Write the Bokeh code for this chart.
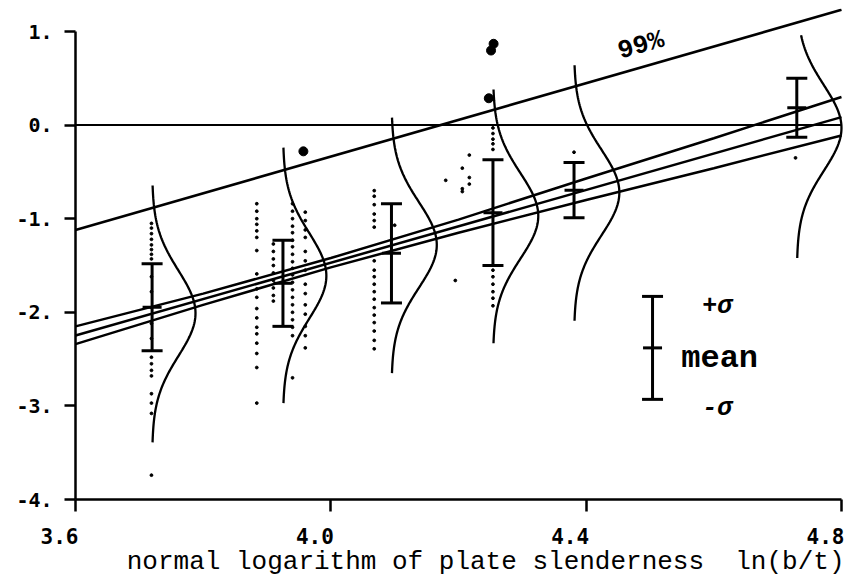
import numpy as np
from bokeh.plotting import figure
from bokeh.models import Label, FixedTicker, Range1d
from bokeh.embed import file_html
from bokeh.resources import INLINE

# ---- axes ----
x_ticks = [3.6, 4.0, 4.4, 4.8]
x_tick_labels = ["3.6", "4.0", "4.4", "4.8"]
y_ticks = [-4, -3, -2, -1, 0, 1]
y_tick_labels = ["-4.", "-3.", "-2.", "-1.", "0.", "1."]
x_title = "normal logarithm of plate slenderness\u00a0 ln(b/t)"

# ---- groups: mean +/- sigma error bars ----
group_x = [3.72, 3.925, 4.095, 4.254, 4.381, 4.73]
group_mean = [-1.945, -1.69, -1.37, -0.935, -0.695, 0.185]
group_sd = [0.465, 0.46, 0.53, 0.565, 0.295, 0.315]

# ---- normal density curves drawn at each group ----
curve_mean = [-2.01, -1.61, -1.28, -0.97, -0.72, -0.03]
curve_sd = [0.457, 0.457, 0.457, 0.457, 0.457, 0.457]
curve_top = [-0.645, -0.24, 0.08, 0.38, 0.64, 0.96]
curve_bottom = [-3.39, -2.97, -2.65, -2.33, -2.09, -1.42]
curve_peak = [0.068, 0.068, 0.071, 0.071, 0.071, 0.07]

# ---- regression line and band ----
reg_x = [3.6, 4.8]
reg_y = [-2.248, 0.085]
band_x = [3.6, 3.8, 4.0, 4.2, 4.4, 4.6, 4.8]
band_upper = [-2.15, -1.80, -1.42, -1.01, -0.57, -0.14, 0.30]
band_lower = [-2.34, -1.92, -1.52, -1.15, -0.80, -0.46, -0.11]

# ---- 99% line and zero line ----
p99_x = [3.6, 4.8]
p99_y = [-1.12, 1.232]
zero_x = [3.6, 4.8]
zero_y = [0.0, 0.0]

# ---- observations (small dots), by column ----
col_x = [3.719, 3.884, 3.910, 3.940, 3.960, 4.068, 4.254]
colA_y = [-1.05, -1.10, -1.16, -1.22, -1.28, -1.33, -1.38, -1.43, -1.62, -1.78, -1.95, -2.12,
          -2.28, -2.48, -2.55, -2.62, -2.68, -2.87, -2.97, -3.08, -3.74]
colB_y = [-0.84, -0.92, -1.00, -1.06, -1.13, -1.20, -1.34, -1.59, -1.75, -1.84, -1.96, -2.06,
          -2.16, -2.23, -2.33, -2.44, -2.59, -2.97]
colC_y = [-1.27, -1.35, -1.43, -1.50, -1.58, -1.66, -1.74, -1.82, -1.88]
colD_y = [-0.84, -0.92, -1.00, -1.08, -1.15, -1.23, -1.30, -1.38, -1.46, -1.53, -1.60, -1.68,
          -1.76, -1.84, -1.92, -2.00, -2.08, -2.16, -2.25, -2.70]
colE_y = [-0.93, -1.02, -1.12, -1.20, -1.35, -1.45, -1.55, -1.70, -1.80, -1.92, -2.02, -2.15,
          -2.25, -2.38]
colF_y = [-0.70, -0.76, -0.85, -0.95, -1.02, -1.09, -1.45, -1.55, -1.62, -1.70, -1.78, -1.86,
          -1.95, -2.03, -2.11, -2.20, -2.30, -2.39]
colG_y = [-0.03, -0.09, -0.15, -0.20, -0.26, -1.55, -1.62, -1.70, -1.78, -1.85, -1.93]
extra_x = [4.217, 4.206, 4.180, 4.217, 4.217, 4.206, 4.206, 4.100, 4.195, 4.381, 4.728]
extra_y = [-0.32, -0.46, -0.59, -0.56, -0.63, -0.68, -0.71, -1.07, -1.66, -0.29, -0.35]

# ---- outliers (large dots) ----
big_x = [3.957, 4.2475, 4.255, 4.251]
big_y = [-0.28, 0.287, 0.869, 0.797]

# ---- key ----
key_x = [4.504]
key_mean = [-2.38]
key_sd = [0.55]
key_texts = ["+σ", "mean", "-σ"]

INK = "#000000"

W, H = 851, 576
p = figure(width=W, height=H, x_range=Range1d(3.4825, 4.8157), y_range=Range1d(-4.8226, 1.246),
           output_backend="svg", toolbar_location=None,
           min_border_left=0, min_border_right=0, min_border_top=8, min_border_bottom=0)
p.outline_line_color = None
p.xgrid.grid_line_color = None
p.ygrid.grid_line_color = None
p.background_fill_color = "white"
p.border_fill_color = "white"

# axes (placed at the data origin corner 3.6 / -4)
p.xaxis.fixed_location = y_ticks[0]
p.xaxis.ticker = FixedTicker(ticks=x_ticks)
p.xaxis.bounds = (x_ticks[0], x_ticks[-1])
p.xaxis.major_label_overrides = {t: "" for t in x_ticks}
p.xaxis.major_tick_out = 12
p.xaxis.major_tick_in = 0
p.xaxis.minor_tick_line_color = None
p.xaxis.axis_line_width = 2.5
p.xaxis.major_tick_line_width = 2.5
p.xaxis.axis_line_color = INK
p.xaxis.major_tick_line_color = INK

p.yaxis.fixed_location = x_ticks[0]
p.yaxis.ticker = FixedTicker(ticks=y_ticks)
p.yaxis.bounds = (y_ticks[0], y_ticks[-1])
p.yaxis.major_label_overrides = {t: l for t, l in zip(y_ticks, y_tick_labels)}
p.yaxis.major_tick_out = 11
p.yaxis.major_tick_in = 0
p.yaxis.minor_tick_line_color = None
p.yaxis.axis_line_width = 2.5
p.yaxis.major_tick_line_width = 2.5
p.yaxis.axis_line_color = INK
p.yaxis.major_tick_line_color = INK
p.yaxis.major_label_standoff = 12
p.yaxis.major_label_text_font = "DejaVu Sans Mono"
p.yaxis.major_label_text_font_style = "bold"
p.yaxis.major_label_text_font_size = "20px"
p.yaxis.major_label_text_color = INK

# x tick labels (right-aligned at ticks)
for t, l in zip(x_ticks, x_tick_labels):
    p.add_layout(Label(x=t, y=y_ticks[0], x_offset=3, y_offset=-36, text=l,
                       text_align="right", text_baseline="middle",
                       text_font="DejaVu Sans Mono", text_font_style="bold",
                       text_font_size="21px", text_color=INK))

# axis title
p.add_layout(Label(x=x_ticks[-1], y=y_ticks[0], x_offset=3, y_offset=-62, text=x_title,
                   text_align="right", text_baseline="alphabetic",
                   text_font="Liberation Mono", text_font_size="26px", text_color=INK))

# zero line and 99% line
p.line(zero_x, zero_y, line_color=INK, line_width=2)
p.line(p99_x, p99_y, line_color=INK, line_width=2.5)
p.add_layout(Label(x=4.486, y=0.85, text="99%", angle=16, angle_units="deg",
                   text_align="center", text_baseline="middle",
                   text_font="Liberation Mono", text_font_style="bold",
                   text_font_size="26px", text_color=INK))

# regression line and band
p.line(reg_x, reg_y, line_color=INK, line_width=2.5)
p.line(band_x, band_upper, line_color=INK, line_width=2.5)
p.line(band_x, band_lower, line_color=INK, line_width=2.5)

# density curves
cx, cy = [], []
for gx, m, s, top, bot, pk in zip(group_x, curve_mean, curve_sd, curve_top, curve_bottom, curve_peak):
    ys = np.linspace(top, bot, 120)
    xs = gx + pk * np.exp(-0.5 * ((ys - m) / s) ** 2)
    cx.append(list(xs))
    cy.append(list(ys))
p.multi_line(cx, cy, line_color=INK, line_width=2.3)

# observations
dots_x, dots_y = [], []
for xv, ys in zip(col_x, [colA_y, colB_y, colC_y, colD_y, colE_y, colF_y, colG_y]):
    dots_x += [xv] * len(ys)
    dots_y += ys
dots_x += extra_x
dots_y += extra_y
p.scatter(dots_x, dots_y, marker="circle", size=2.8, color=INK)
p.scatter(big_x, big_y, marker="circle", size=9, color=INK)

# error bars
def ebar(xs, means, sds, cap=21, mid=19):
    lo = [m - s for m, s in zip(means, sds)]
    hi = [m + s for m, s in zip(means, sds)]
    p.segment(xs, lo, xs, hi, line_color=INK, line_width=3)
    p.scatter(xs + xs, lo + hi, marker="dash", size=cap, line_color=INK, line_width=3)
    p.scatter(xs, means, marker="dash", size=mid, line_color=INK, line_width=3)

ebar(group_x, group_mean, group_sd)
ebar(key_x, key_mean, key_sd)

# key texts
p.add_layout(Label(x=4.582, y=-1.94, text=key_texts[0], text_align="left", text_baseline="alphabetic",
                   text_font="Liberation Mono", text_font_style="bold italic",
                   text_font_size="25px", text_color=INK))
p.add_layout(Label(x=4.549, y=-2.494, text=key_texts[1], text_align="left", text_baseline="alphabetic",
                   text_font="Liberation Mono", text_font_style="bold",
                   text_font_size="32px", text_color=INK))
p.add_layout(Label(x=4.582, y=-3.03, text=key_texts[2], text_align="left", text_baseline="alphabetic",
                   text_font="Liberation Mono", text_font_style="bold italic",
                   text_font_size="25px", text_color=INK))

open("out.html", "w").write(file_html(p, INLINE))
